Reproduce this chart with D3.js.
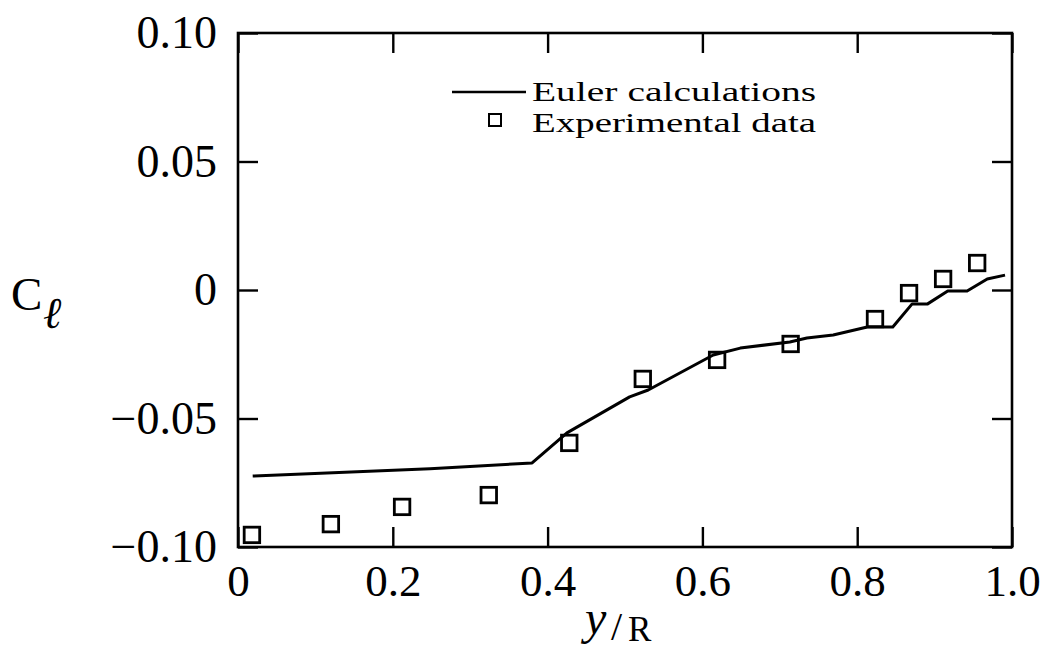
<!DOCTYPE html>
<html><head><meta charset="utf-8">
<script src="https://cdn.jsdelivr.net/npm/d3@7"></script>
<style>body{margin:0;background:#fff}svg{display:block}</style>
</head><body><svg id="chart" width="1045" height="652"></svg>
<script>
// ---- data ----
const xTicks = [0, 0.2, 0.4, 0.6, 0.8, 1.0];
const xTickLabels = ["0", "0.2", "0.4", "0.6", "0.8", "1.0"];
const yTicks = [0.10, 0.05, 0, -0.05, -0.10];
const yTickLabels = ["0.10", "0.05", "0", "\u22120.05", "\u22120.10"];

const eulerX = [0.019, 0.248, 0.380, 0.425, 0.506, 0.530, 0.614, 0.649, 0.713, 0.735, 0.769, 0.813, 0.846, 0.871, 0.891, 0.917, 0.942, 0.968, 0.991];
const eulerY = [-0.0724, -0.0696, -0.0673, -0.0556, -0.0416, -0.0389, -0.0253, -0.0226, -0.0202, -0.0187, -0.0175, -0.0144, -0.0144, -0.0054, -0.0054, -0.0004, -0.0004, 0.0043, 0.0058];

const expX = [0.018, 0.120, 0.212, 0.324, 0.428, 0.523, 0.619, 0.714, 0.823, 0.867, 0.911, 0.955];
const expY = [-0.0953, -0.0911, -0.0844, -0.0798, -0.0595, -0.0346, -0.0272, -0.0210, -0.0113, -0.0012, 0.0043, 0.0105];

const legendLabels = ["Euler calculations", "Experimental data"];

// ---- layout ----
const W = 1045, H = 652;
const L = 238, R = 1012, T = 33, B = 547;
const FONT = "'Liberation Serif','Times New Roman',Times,serif";

const svg = d3.select("#chart");
svg.append("rect").attr("width", W).attr("height", H).attr("fill", "#fff");

const x = d3.scaleLinear().domain([0, 1]).range([L, R]);
const y = d3.scaleLinear().domain([-0.10, 0.10]).range([B, T]);

function styleAxis(g, showLabels, size) {
  g.select(".domain").remove();
  g.selectAll(".tick line").attr("stroke", "#000").attr("stroke-width", 2.4);
  g.selectAll(".tick text")
    .attr("fill", "#000")
    .attr("font-family", FONT)
    .style("font-family", FONT)
    .style("font-size", size + "px");
  if (!showLabels) g.selectAll(".tick text").remove();
}

// bottom axis
svg.append("g").attr("transform", `translate(0,${B})`)
  .call(d3.axisBottom(x).tickValues(xTicks).tickFormat((d, i) => xTickLabels[i])
    .tickSizeInner(-20).tickSizeOuter(0).tickPadding(17))
  .call(g => styleAxis(g, true, 45));
// top axis
svg.append("g").attr("transform", `translate(0,${T})`)
  .call(d3.axisTop(x).tickValues(xTicks).tickSizeInner(-20).tickSizeOuter(0))
  .call(g => styleAxis(g, false, 45));
// left axis
svg.append("g").attr("transform", `translate(${L},0)`)
  .call(d3.axisLeft(y).tickValues(yTicks).tickFormat((d, i) => yTickLabels[i])
    .tickSizeInner(-20).tickSizeOuter(0).tickPadding(21))
  .call(g => styleAxis(g, true, 46));
// right axis
svg.append("g").attr("transform", `translate(${R},0)`)
  .call(d3.axisRight(y).tickValues(yTicks).tickSizeInner(-20).tickSizeOuter(0))
  .call(g => styleAxis(g, false, 46));

// frame
svg.append("rect").attr("x", L).attr("y", T).attr("width", R - L).attr("height", B - T)
  .attr("fill", "none").attr("stroke", "#000").attr("stroke-width", 2.6);

// Euler line
const eulerData = eulerX.map((v, i) => [v, eulerY[i]]);
svg.append("path").datum(eulerData)
  .attr("d", d3.line().x(d => x(d[0])).y(d => y(d[1])))
  .attr("fill", "none").attr("stroke", "#000").attr("stroke-width", 3)
  .attr("stroke-linejoin", "round");

// experimental squares
const S = 15.5;
const expData = expX.map((v, i) => [v, expY[i]]);
svg.append("g").selectAll("rect").data(expData).join("rect")
  .attr("x", d => x(d[0]) - S / 2).attr("y", d => y(d[1]) - S / 2)
  .attr("width", S).attr("height", S)
  .attr("fill", "none").attr("stroke", "#000").attr("stroke-width", 2.8);

// legend
const lg = svg.append("g");
lg.append("line").attr("x1", 452).attr("x2", 526).attr("y1", 92).attr("y2", 92)
  .attr("stroke", "#000").attr("stroke-width", 2.4);
lg.append("rect").attr("x", 489).attr("y", 114).attr("width", 12).attr("height", 12)
  .attr("fill", "none").attr("stroke", "#000").attr("stroke-width", 2);
lg.selectAll("text").data(legendLabels).join("text")
  .attr("x", 532).attr("y", (d, i) => 101 + i * 31)
  .attr("textLength", 284).attr("lengthAdjust", "spacingAndGlyphs")
  .style("font-family", FONT).style("font-size", "28px").attr("fill", "#000")
  .text(d => d);

// axis titles
const yl = svg.append("text").attr("fill", "#000").style("font-family", FONT);
yl.append("tspan").attr("x", 11).attr("y", 310).style("font-size", "47px").text("C");
yl.append("tspan").attr("x", 43).attr("y", 328).style("font-size", "44px").style("font-style", "italic").text("\u2113");

const xl = svg.append("text").attr("fill", "#000").style("font-family", FONT);
xl.append("tspan").attr("x", 585).attr("y", 634).style("font-size", "48px").style("font-style", "italic").text("y");
xl.append("tspan").attr("x", 611).attr("y", 640).style("font-size", "40px").text("/");
xl.append("tspan").attr("x", 628).attr("y", 641).style("font-size", "35px").text("R");
</script>
</body></html>
